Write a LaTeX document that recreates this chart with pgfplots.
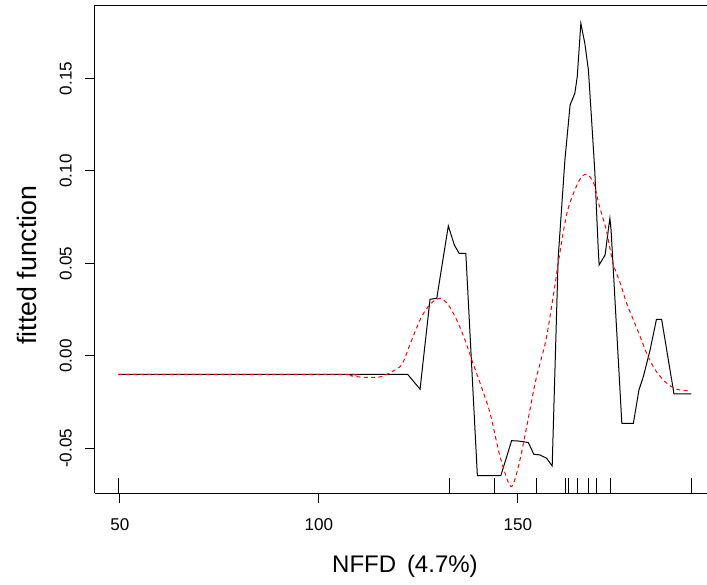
\documentclass[border=0pt]{standalone}
\usepackage{pgfplots}
\pgfplotsset{compat=1.18}
\usepackage{fontspec}
\setmainfont{Liberation Sans}
\begin{document}
\begin{tikzpicture}
\begin{axis}[
  scale only axis,
  width=459pt, height=366pt,
  xmin=43.72, xmax=197.5,
  ymin=-0.0741, ymax=0.1897,
  axis x line*=box, axis y line*=left,
  xtick pos=bottom, ytick pos=left,
  tick align=outside,
  major tick length=7.5pt,
  tick style={black, line width=0.75pt},
  axis line style={black, line width=0.75pt},
  xtick={50,100,150},
  xticklabels={50,100,150},
  ytick={-0.05,0,0.05,0.1,0.15},
  yticklabels={-0.05,0.00,0.05,0.10,0.15},
  ticklabel style={font=\fontsize{12.8}{14}\selectfont},
  yticklabel style={rotate=90, anchor=south, inner sep=0pt},
  xticklabel style={anchor=north, inner sep=0pt},
  yticklabel shift=9.75pt,
  xticklabel shift=11.25pt,
  xlabel={NFFD\hspace{0.45em}(4.7\%)},
  ylabel={fitted function},
  xlabel style={font=\fontsize{18}{20}\selectfont, at={(axis description cs:0.5065,-0.1496)}, anchor=center},
  ylabel style={font=\fontsize{20}{22}\selectfont, at={(axis description cs:-0.1111,0.467)}, anchor=center},
]
\coordinate (bl) at (rel axis cs:0,0);
\coordinate (tr) at (rel axis cs:1,1);
% fitted function (black)
\addplot[black, line width=0.75pt] coordinates {
(49.5,-0.010) (122.3,-0.010) (125.4,-0.018) (127.9,0.0306) (129.6,0.0312)
(132.5,0.0703) (134.0,0.060) (135.2,0.0555) (136.9,0.0555) (139.8,-0.0647)
(145.7,-0.0647) (148.4,-0.0458) (150.1,-0.046) (152.6,-0.0468) (154.0,-0.0532)
(155.5,-0.0535) (157.2,-0.0553) (158.6,-0.0595) (160.1,0.0528) (161.8,0.106)
(163.1,0.1357) (164.3,0.142) (164.9,0.151) (165.8,0.1798) (166.8,0.169)
(167.7,0.1546) (168.5,0.1276) (169.3,0.100) (170.2,0.0564) (170.4,0.0492)
(171.9,0.0546) (172.7,0.0681) (173.1,0.0744) (173.4,0.068) (176.1,-0.0364)
(179.0,-0.0364) (180.4,-0.0184) (181.5,-0.0112) (183.2,0.0032) (184.8,0.0198)
(186.1,0.0198) (189.2,-0.0205) (193.6,-0.0205)
};
% smooth fit (red dashed)
\addplot[red, line width=0.75pt, dash pattern=on 3pt off 2.5pt, smooth] coordinates {
(49.5,-0.010) (105,-0.010) (108,-0.0108) (111,-0.0115) (115,-0.0115)
(117.5,-0.0095) (119.5,-0.007) (121,-0.004) (123.3,0.0086) (125.8,0.0213)
(128.2,0.0285) (130.5,0.0312) (132.5,0.0276) (134.6,0.0195) (136.7,0.0086)
(138.4,-0.0022) (140.5,-0.0148) (143.0,-0.031) (145.5,-0.0544) (148.2,-0.0706)
(150.1,-0.0598) (152.2,-0.0382) (154.3,-0.0148) (155.8,-0.002) (157.2,0.0104)
(159.5,0.041) (160.1,0.050) (162.4,0.078) (165.3,0.0945) (167.2,0.0982)
(169.0,0.0935) (170.5,0.0807) (172.2,0.068) (173.9,0.0501) (175.6,0.0400)
(177.3,0.0285) (179.0,0.0195) (180.7,0.0104) (182.7,-0.0004) (184.8,-0.0085)
(187.4,-0.0148) (189.9,-0.018) (192.7,-0.0188)
};
% rug
\addplot[only marks, mark=|, mark size=5.625pt, black, mark options={line width=0.75pt}] coordinates {
(49.5,-0.0700) (132.9,-0.0700) (144.0,-0.0700) (154.7,-0.0700) (162.0,-0.0700)
(162.8,-0.0700) (164.9,-0.0700) (167.7,-0.0700) (169.8,-0.0700) (173.3,-0.0700)
(193.6,-0.0700)
};
\end{axis}
\pgfresetboundingbox
\useasboundingbox ([xshift=-71.25pt,yshift=-68.25pt]bl) rectangle ([yshift=3.75pt]tr);
\end{tikzpicture}
\end{document}
